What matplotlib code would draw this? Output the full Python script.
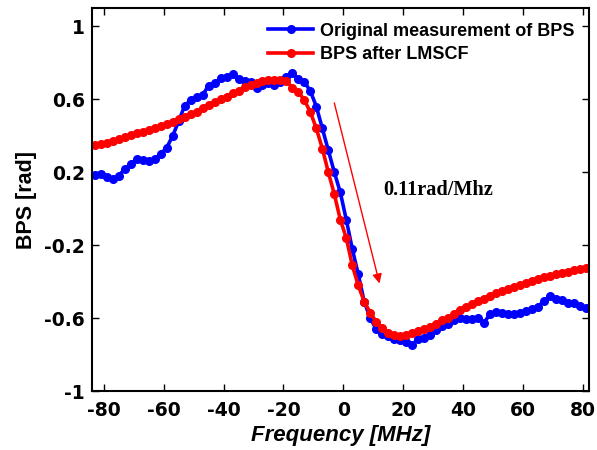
import numpy as np
import matplotlib
matplotlib.use("Agg")
import matplotlib.pyplot as plt

plt.rcParams['font.family'] = ['Liberation Sans', 'DejaVu Sans']
plt.rcParams['axes.unicode_minus'] = False

# frequency grid [MHz]
freq = np.arange(-83, 82, 2)

# original measurement of BPS [rad]
bps_orig = [0.187, 0.19, 0.175, 0.165, 0.18, 0.22, 0.245, 0.27, 0.265, 0.26,
            0.275, 0.30, 0.335, 0.40, 0.48, 0.565, 0.595, 0.613, 0.624, 0.675,
            0.69, 0.714, 0.72, 0.74, 0.71, 0.70, 0.695, 0.662, 0.68, 0.69,
            0.676, 0.695, 0.72, 0.745, 0.71, 0.695, 0.645, 0.56, 0.44, 0.32,
            0.20, 0.09,
            -0.06, -0.22, -0.36, -0.51, -0.60, -0.66, -0.685, -0.70, -0.715, -0.72,
            -0.73, -0.745, -0.716, -0.71, -0.69, -0.665, -0.645, -0.63, -0.61, -0.60,
            -0.606, -0.606, -0.60, -0.625, -0.58, -0.565, -0.57, -0.578, -0.578, -0.57,
            -0.56, -0.552, -0.54, -0.505, -0.48, -0.497, -0.50, -0.515, -0.518, -0.535,
            -0.545]

# BPS after LMSCF [rad]
bps_fit = [0.347, 0.353, 0.36, 0.37, 0.381, 0.392, 0.404, 0.413, 0.421, 0.433,
           0.444, 0.453, 0.465, 0.478, 0.49, 0.505, 0.518, 0.532, 0.55, 0.567,
           0.583, 0.60, 0.615, 0.632, 0.648, 0.665, 0.678, 0.69, 0.698, 0.705,
           0.708, 0.708, 0.70, 0.663, 0.64, 0.595, 0.53, 0.44, 0.33, 0.20,
           0.08, -0.06,
           -0.16, -0.31, -0.42, -0.51, -0.57, -0.62, -0.655, -0.68, -0.69, -0.70,
           -0.692, -0.682, -0.672, -0.66, -0.647, -0.63, -0.613, -0.597, -0.578, -0.555,
           -0.538, -0.522, -0.505, -0.493, -0.478, -0.463, -0.452, -0.44, -0.427, -0.417,
           -0.406, -0.397, -0.387, -0.376, -0.368, -0.36, -0.351, -0.345, -0.338, -0.33,
           -0.325]

xticks = [-80, -60, -40, -20, 0, 20, 40, 60, 80]
yticks = [1, 0.6, 0.2, -0.2, -0.6, -1]
ytick_labels = ["1", "0.6", "0.2", "-0.2", "-0.6", "-1"]

fig = plt.figure(figsize=(5.97, 4.5), dpi=100)
ax = fig.add_axes([0.154, 0.131, 0.833, 0.851])

ax.plot(freq, bps_orig, '-o', color='#0000ff', lw=2.6, ms=5.5,
        label="Original measurement of BPS")
ax.plot(freq, bps_fit, '-o', color='#ff0000', lw=2.6, ms=5.5,
        label="BPS after LMSCF")

# slope annotation
ax.annotate("", xy=(12.1, -0.41), xytext=(-3, 0.58),
            arrowprops=dict(arrowstyle="-|>", color='red', lw=1,
                            mutation_scale=14, shrinkA=0, shrinkB=0))
ax.text(13.3, 0.077, "0.11rad/Mhz", family='Liberation Serif', fontweight='bold',
        fontsize=14.6, ha='left', va='baseline')

ax.set_xlim(-84, 82.2)
ax.set_ylim(-1, 1.1)
ax.set_xticks(xticks)
ax.set_yticks(yticks)
ax.set_yticklabels(ytick_labels)
ax.tick_params(direction='in', length=5, width=1, top=True, right=True,
               labelsize=13.5, pad=5)
ax.tick_params(axis='x', pad=7)
for lab in ax.get_xticklabels() + ax.get_yticklabels():
    lab.set_fontweight('bold')
    lab.set_family('DejaVu Sans')
for sp in ax.spines.values():
    sp.set_linewidth(1.5)

ax.set_xlabel("Frequency [MHz]", fontsize=16, fontweight='bold', style='italic',
              labelpad=4)
ax.set_ylabel("BPS [rad]", fontsize=15.5, fontweight='bold', labelpad=5)

leg = ax.legend(loc='upper right', frameon=False,
                prop={'weight': 'bold', 'size': 13}, handlelength=2.5,
                borderaxespad=0.4, handletextpad=0.4, labelspacing=0.35)

fig.savefig("out.png", dpi=100)
